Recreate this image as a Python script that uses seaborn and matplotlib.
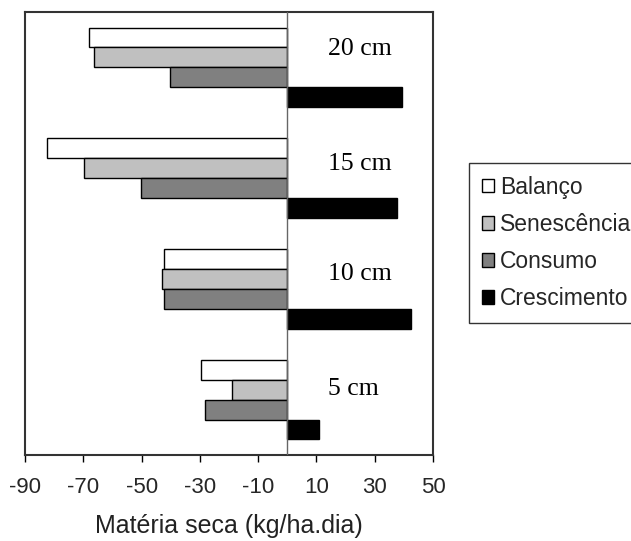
import matplotlib
matplotlib.use("Agg")
import matplotlib.pyplot as plt
import seaborn as sns
import pandas as pd

# ---- data ----
categories = ["20 cm", "15 cm", "10 cm", "5 cm"]
series_names = ["Balanço", "Senescência", "Consumo", "Crescimento"]
balanco = [-68.1, -82.5, -42.3, -29.5]
senescencia = [-66.2, -69.6, -43.0, -18.9]
consumo = [-40.2, -50.1, -42.3, -28.1]
crescimento = [39.2, 37.6, 42.4, 10.9]
x_ticks = [-90, -70, -50, -30, -10, 10, 30, 50]
x_label = "Matéria seca (kg/ha.dia)"

values = [balanco, senescencia, consumo, crescimento]
rows = []
for name, vals in zip(series_names, values):
    for cat, v in zip(categories, vals):
        rows.append({"Altura": cat, "Série": name, "Valor": v})
df = pd.DataFrame(rows)

sns.set_theme(style="white")
plt.rcParams["font.family"] = ["Liberation Sans", "DejaVu Sans"]

fig = plt.figure(figsize=(6.31, 5.41), dpi=100)
ax = fig.add_axes([25 / 631, 1 - 455 / 541, (433 - 25) / 631, (455 - 12) / 541])

palette = {"Balanço": "#FFFFFF", "Senescência": "#C0C0C0",
           "Consumo": "#808080", "Crescimento": "#000000"}
sns.barplot(data=df, y="Altura", x="Valor", hue="Série", order=categories,
            hue_order=series_names, palette=palette, orient="h",
            width=0.72, edgecolor="black", linewidth=1.0, saturation=1,
            legend=True, ax=ax)

ax.set_xlim(-90, 50)
ax.set_ylim(3.5, -0.5)
ax.set_xticks(x_ticks)
ax.set_xticklabels([str(t) for t in x_ticks], fontsize=16)
ax.tick_params(axis="x", direction="out", length=5, width=1, color="black", pad=11,
               bottom=True)
ax.set_yticks([])
ax.set_ylabel("")
ax.set_xlabel(x_label, fontsize=18, labelpad=11, color="#222222")
for s in ax.spines.values():
    s.set_visible(True)
    s.set_color("#333333")
    s.set_linewidth(1.5)
ax.axvline(0, color="#666666", linewidth=1.0, zorder=5)

# in-plot category labels (layout positions)
label_x = 14
label_y = [-0.17, 0.87, 1.87, 2.9]
for cat, yy in zip(categories, label_y):
    ax.text(label_x, yy, cat, ha="left", va="center", fontsize=18.5,
            family=["Liberation Serif", "DejaVu Serif"], color="black")

handles, labels = ax.get_legend_handles_labels()
ax.legend_.remove()
leg = fig.legend(handles, labels, loc="upper left",
                 bbox_to_anchor=(469 / 631, 1 - 163 / 541),
                 frameon=True, fancybox=False, edgecolor="black",
                 fontsize=16.5, handlelength=0.55, handleheight=0.55,
                 handletextpad=0.25, labelspacing=0.62, borderpad=0.55,
                 borderaxespad=0)
leg.get_frame().set_linewidth(1.0)

fig.savefig("out.png", dpi=100)
